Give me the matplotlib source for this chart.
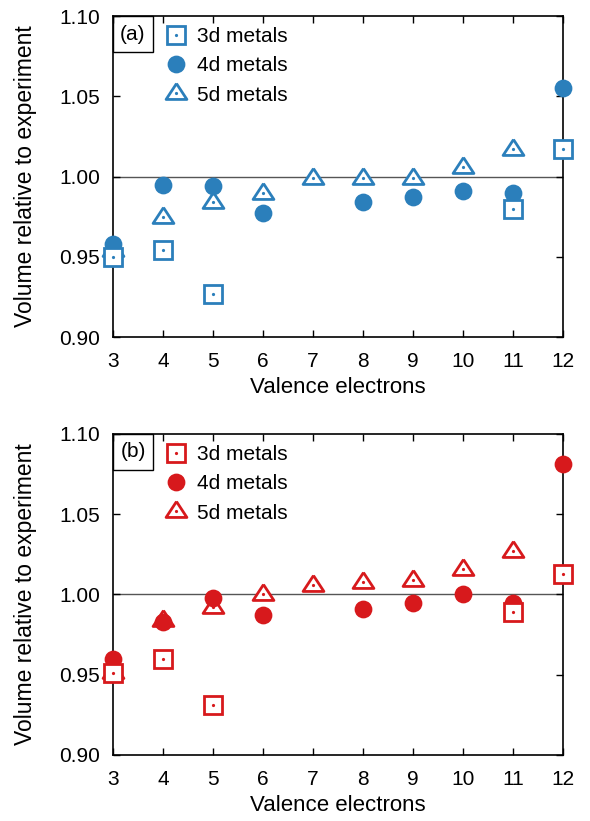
import matplotlib
matplotlib.use("Agg")
import matplotlib.pyplot as plt
from matplotlib.patches import Rectangle
from matplotlib.legend_handler import HandlerTuple

plt.rcParams['font.family'] = ['Liberation Sans', 'DejaVu Sans']

valence_3d = [3, 4, 5, 11, 12]
valence_4d = [3, 4, 5, 6, 8, 9, 10, 11, 12]
valence_5d = [3, 4, 5, 6, 7, 8, 9, 10, 11]

a_3d = [0.950, 0.954, 0.927, 0.980, 1.017]
a_4d = [0.958, 0.995, 0.994, 0.977, 0.984, 0.987, 0.991, 0.990, 1.055]
a_5d = [0.954, 0.975, 0.984, 0.990, 0.999, 0.999, 0.999, 1.006, 1.017]

b_3d = [0.951, 0.960, 0.931, 0.989, 1.013]
b_4d = [0.960, 0.983, 0.998, 0.987, 0.991, 0.995, 1.000, 0.995, 1.081]
b_5d = [0.952, 0.984, 0.992, 1.000, 1.006, 1.008, 1.009, 1.016, 1.027]

panels = [("(a)", "#2b7fbb", a_3d, a_4d, a_5d),
          ("(b)", "#d7191c", b_3d, b_4d, b_5d)]

xticks = [3, 4, 5, 6, 7, 8, 9, 10, 11, 12]
yticks = [0.90, 0.95, 1.00, 1.05, 1.10]

tri = [(0, 10), (-10.5, -6), (10.5, -6), (0, 10)]

fig = plt.figure(figsize=(5.90, 8.21), dpi=100)
ax_pos = [[0.1915, 0.5895, 0.7627, 0.3910],
          [0.1915, 0.0804, 0.7627, 0.3910]]

for pos, (tag, col, v3, v4, v5) in zip(ax_pos, panels):
    ax = fig.add_axes(pos)
    ax.axhline(1.0, color='#555555', lw=1.0, zorder=1)
    ew = 2.0
    t = ax.plot(valence_5d, v5, linestyle='none', marker=tri, ms=15,
                mfc='white', mec=col, mew=ew, clip_on=False, zorder=3)[0]
    td = ax.plot(valence_5d, v5, linestyle='none', marker='o', ms=2.3,
                 mfc=col, mec='none', clip_on=False, zorder=3.1)[0]
    c = ax.plot(valence_4d, v4, linestyle='none', marker='o', ms=12.8,
                mfc=col, mec=col, mew=0, clip_on=False, zorder=4)[0]
    s = ax.plot(valence_3d, v3, linestyle='none', marker='s', ms=12.5,
                mfc='white', mec=col, mew=ew, clip_on=False, zorder=5)[0]
    sd = ax.plot(valence_3d, v3, linestyle='none', marker='o', ms=2.3,
                 mfc=col, mec='none', clip_on=False, zorder=5.1)[0]

    ax.set_xlim(3, 12)
    ax.set_ylim(0.90, 1.10)
    ax.set_xticks(xticks)
    ax.set_yticks(yticks)
    ax.set_yticklabels([f"{v:.2f}" for v in yticks])
    ax.tick_params(direction='in', length=5, width=1.0, labelsize=15,
                   top=True, right=True, pad=9.5)
    ax.tick_params(axis='x', pad=11)
    for sp in ax.spines.values():
        sp.set_linewidth(1.2)
    ax.set_xlabel("Valence electrons", fontsize=16)
    ax.set_ylabel("Volume relative to experiment", fontsize=16.5)
    ax.xaxis.set_label_coords(0.5, -40 / 321)
    ax.yaxis.set_label_coords(-(113 - 37) / 450, 0.5)

    ax.add_patch(Rectangle((0, 1 - 36 / 321), 40 / 450, 36 / 321,
                           transform=ax.transAxes, fill=False, ec='black',
                           lw=1.0, zorder=6, clip_on=False))
    ax.text(20 / 450, 1 - 18 / 321, tag, transform=ax.transAxes,
            ha='center', va='center', fontsize=15, zorder=7)

    leg = ax.legend([(s, sd), (c,), (t, td)],
                    ["3d metals", "4d metals", "5d metals"],
                    handler_map={tuple: HandlerTuple(ndivide=1)},
                    loc='upper left', bbox_to_anchor=(0.112, 0.966),
                    frameon=False, fontsize=15, handlelength=1.2,
                    handletextpad=0.41, labelspacing=0.5, borderpad=0,
                    borderaxespad=0)

fig.savefig("out.png", dpi=100)
